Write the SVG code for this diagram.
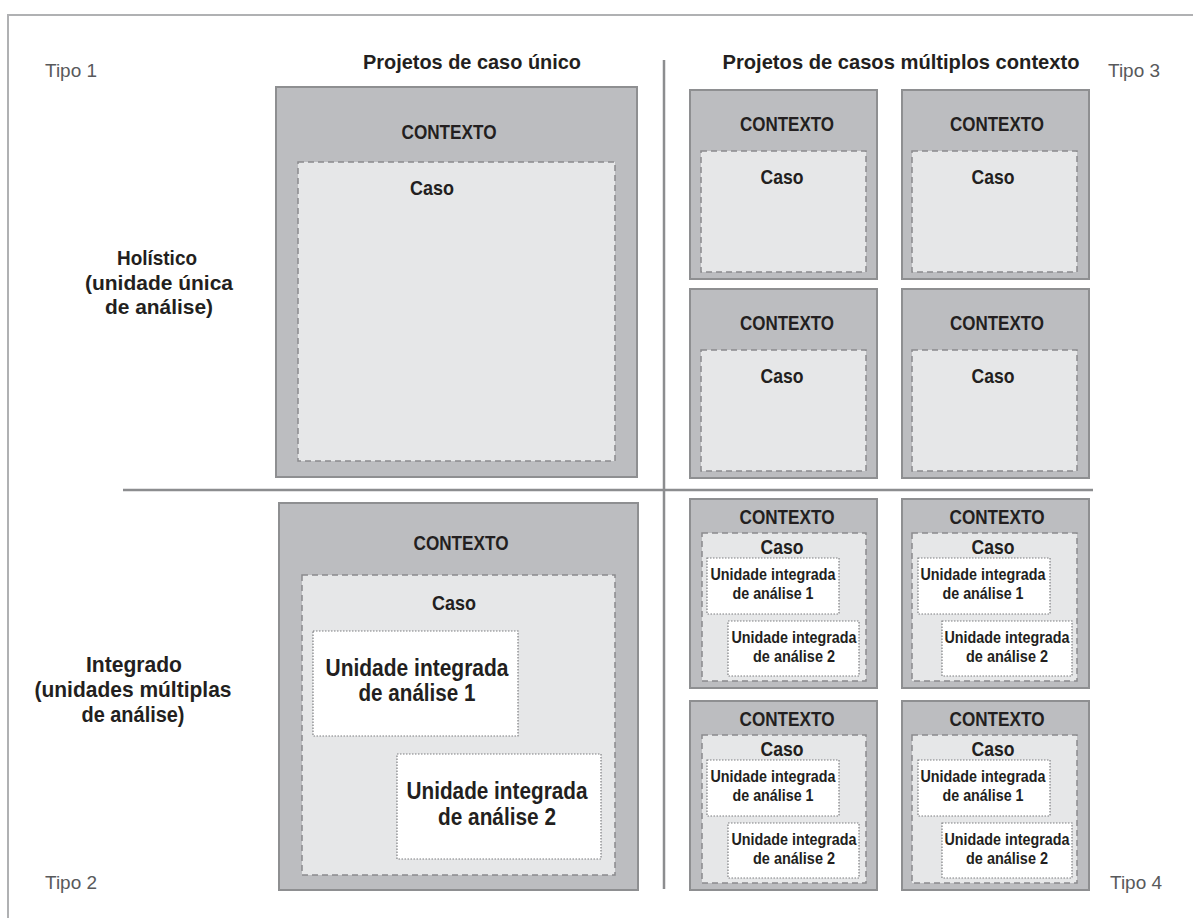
<svg xmlns="http://www.w3.org/2000/svg" width="1193" height="918" viewBox="0 0 1193 918">
<style>
.ctx{fill:#bcbdc0;stroke:#8e8f91;stroke-width:2}
.caso{fill:#e6e7e8;stroke:#8a8b8d;stroke-width:1.5;stroke-dasharray:6 4}
.unit{fill:#ffffff;stroke:#7d7e80;stroke-width:1.2;stroke-dasharray:1.5 1.5}
.b{font-family:"Liberation Sans",Arial,sans-serif;font-weight:bold;fill:#231f20;text-anchor:middle}
.tipo{font-family:"Liberation Sans",Arial,sans-serif;font-size:19px;fill:#58595b}
.line{stroke:#8c8d8f;stroke-width:2.5;fill:none}
.frame{stroke:#b0b1b3;stroke-width:2;fill:none}
</style>
<rect width="1193" height="918" fill="#ffffff"/>
<g id="frame">
<polyline class="frame" points="8,918 8,15 1193,15"/>
</g>
<g id="connectors">
<line class="line" x1="123" y1="490" x2="1093" y2="490"/>
<line class="line" x1="664" y1="60" x2="664" y2="889"/>
</g>
<g id="labels">
<text class="tipo" x="45" y="77" textLength="52" lengthAdjust="spacingAndGlyphs">Tipo 1</text>
<text class="tipo" x="1108" y="77" textLength="52" lengthAdjust="spacingAndGlyphs">Tipo 3</text>
<text class="tipo" x="45" y="889" textLength="52" lengthAdjust="spacingAndGlyphs">Tipo 2</text>
<text class="tipo" x="1110" y="889" textLength="52" lengthAdjust="spacingAndGlyphs">Tipo 4</text>
<text class="b" x="472" y="69" font-size="21" textLength="218" lengthAdjust="spacingAndGlyphs">Projetos de caso único</text>
<text class="b" x="901" y="69" font-size="21" textLength="357" lengthAdjust="spacingAndGlyphs">Projetos de casos múltiplos contexto</text>
<text class="b" x="157" y="265" font-size="21" textLength="80" lengthAdjust="spacingAndGlyphs">Holístico</text>
<text class="b" x="159" y="290" font-size="21" textLength="148" lengthAdjust="spacingAndGlyphs">(unidade única</text>
<text class="b" x="159" y="314" font-size="21" textLength="108" lengthAdjust="spacingAndGlyphs">de análise)</text>
<text class="b" x="134" y="672" font-size="22" textLength="96" lengthAdjust="spacingAndGlyphs">Integrado</text>
<text class="b" x="133" y="697" font-size="22" textLength="197" lengthAdjust="spacingAndGlyphs">(unidades múltiplas</text>
<text class="b" x="133" y="722" font-size="22" textLength="103" lengthAdjust="spacingAndGlyphs">de análise)</text>
</g>
<g id="tipo1">
<rect class="ctx" x="276" y="87" width="361" height="390"/>
<text class="b" x="449" y="139" font-size="21" textLength="95" lengthAdjust="spacingAndGlyphs">CONTEXTO</text>
<rect class="caso" x="298" y="162" width="317" height="299"/>
<text class="b" x="432" y="195" font-size="21" textLength="44" lengthAdjust="spacingAndGlyphs">Caso</text>
</g>
<g id="tipo2">
<rect class="ctx" x="279" y="503" width="359" height="387"/>
<text class="b" x="461" y="550" font-size="21" textLength="95" lengthAdjust="spacingAndGlyphs">CONTEXTO</text>
<rect class="caso" x="302" y="575" width="313" height="300"/>
<text class="b" x="454" y="610" font-size="21" textLength="44" lengthAdjust="spacingAndGlyphs">Caso</text>
<rect class="unit" x="313" y="631" width="205" height="105"/>
<text class="b" x="417" y="676" font-size="23" textLength="183" lengthAdjust="spacingAndGlyphs">Unidade integrada</text>
<text class="b" x="417" y="701" font-size="23" textLength="117" lengthAdjust="spacingAndGlyphs">de análise 1</text>
<rect class="unit" x="397" y="754" width="204" height="105"/>
<text class="b" x="497" y="799" font-size="23" textLength="181" lengthAdjust="spacingAndGlyphs">Unidade integrada</text>
<text class="b" x="497" y="825" font-size="23" textLength="118" lengthAdjust="spacingAndGlyphs">de análise 2</text>
</g>
<g id="tipo3-caso1">
<rect class="ctx" x="690" y="90" width="187" height="189"/>
<text class="b" x="787" y="131" font-size="21" textLength="94" lengthAdjust="spacingAndGlyphs">CONTEXTO</text>
<rect class="caso" x="701" y="151" width="165" height="121"/>
<text class="b" x="782" y="184" font-size="21" textLength="43" lengthAdjust="spacingAndGlyphs">Caso</text>
</g>
<g id="tipo3-caso2" transform="translate(212,0)">
<rect class="ctx" x="690" y="90" width="187" height="189"/>
<text class="b" x="785" y="131" font-size="21" textLength="94" lengthAdjust="spacingAndGlyphs">CONTEXTO</text>
<rect class="caso" x="700" y="151" width="165" height="121"/>
<text class="b" x="781" y="184" font-size="21" textLength="43" lengthAdjust="spacingAndGlyphs">Caso</text>
</g>
<g id="tipo3-caso3" transform="translate(0,199)">
<rect class="ctx" x="690" y="90" width="187" height="189"/>
<text class="b" x="787" y="131" font-size="21" textLength="94" lengthAdjust="spacingAndGlyphs">CONTEXTO</text>
<rect class="caso" x="701" y="151" width="165" height="121"/>
<text class="b" x="782" y="184" font-size="21" textLength="43" lengthAdjust="spacingAndGlyphs">Caso</text>
</g>
<g id="tipo3-caso4" transform="translate(212,199)">
<rect class="ctx" x="690" y="90" width="187" height="189"/>
<text class="b" x="785" y="131" font-size="21" textLength="94" lengthAdjust="spacingAndGlyphs">CONTEXTO</text>
<rect class="caso" x="700" y="151" width="165" height="121"/>
<text class="b" x="781" y="184" font-size="21" textLength="43" lengthAdjust="spacingAndGlyphs">Caso</text>
</g>
<g id="tipo4-caso1">
<rect class="ctx" x="690" y="499" width="187" height="189"/>
<text class="b" x="787" y="524" font-size="21" textLength="95" lengthAdjust="spacingAndGlyphs">CONTEXTO</text>
<rect class="caso" x="702" y="533" width="164" height="148"/>
<text class="b" x="782" y="554" font-size="21" textLength="43" lengthAdjust="spacingAndGlyphs">Caso</text>
<rect class="unit" x="707" y="558" width="132" height="56"/>
<text class="b" x="773" y="580" font-size="16.5" textLength="125" lengthAdjust="spacingAndGlyphs">Unidade integrada</text>
<text class="b" x="773" y="599" font-size="16.5" textLength="81" lengthAdjust="spacingAndGlyphs">de análise 1</text>
<rect class="unit" x="728" y="621" width="131" height="55"/>
<text class="b" x="794" y="643" font-size="16.5" textLength="125" lengthAdjust="spacingAndGlyphs">Unidade integrada</text>
<text class="b" x="794" y="662" font-size="16.5" textLength="82" lengthAdjust="spacingAndGlyphs">de análise 2</text>
</g>
<g id="tipo4-caso2" transform="translate(212,0)">
<rect class="ctx" x="690" y="499" width="187" height="189"/>
<text class="b" x="785" y="524" font-size="21" textLength="95" lengthAdjust="spacingAndGlyphs">CONTEXTO</text>
<rect class="caso" x="700" y="533" width="165" height="148"/>
<text class="b" x="781" y="554" font-size="21" textLength="43" lengthAdjust="spacingAndGlyphs">Caso</text>
<rect class="unit" x="706" y="558" width="132" height="56"/>
<text class="b" x="771" y="580" font-size="16.5" textLength="125" lengthAdjust="spacingAndGlyphs">Unidade integrada</text>
<text class="b" x="771" y="599" font-size="16.5" textLength="81" lengthAdjust="spacingAndGlyphs">de análise 1</text>
<rect class="unit" x="730" y="621" width="130" height="55"/>
<text class="b" x="795" y="643" font-size="16.5" textLength="125" lengthAdjust="spacingAndGlyphs">Unidade integrada</text>
<text class="b" x="795" y="662" font-size="16.5" textLength="82" lengthAdjust="spacingAndGlyphs">de análise 2</text>
</g>
<g id="tipo4-caso3" transform="translate(0,202)">
<rect class="ctx" x="690" y="499" width="187" height="189"/>
<text class="b" x="787" y="524" font-size="21" textLength="95" lengthAdjust="spacingAndGlyphs">CONTEXTO</text>
<rect class="caso" x="702" y="533" width="164" height="148"/>
<text class="b" x="782" y="554" font-size="21" textLength="43" lengthAdjust="spacingAndGlyphs">Caso</text>
<rect class="unit" x="707" y="558" width="132" height="56"/>
<text class="b" x="773" y="580" font-size="16.5" textLength="125" lengthAdjust="spacingAndGlyphs">Unidade integrada</text>
<text class="b" x="773" y="599" font-size="16.5" textLength="81" lengthAdjust="spacingAndGlyphs">de análise 1</text>
<rect class="unit" x="728" y="621" width="131" height="55"/>
<text class="b" x="794" y="643" font-size="16.5" textLength="125" lengthAdjust="spacingAndGlyphs">Unidade integrada</text>
<text class="b" x="794" y="662" font-size="16.5" textLength="82" lengthAdjust="spacingAndGlyphs">de análise 2</text>
</g>
<g id="tipo4-caso4" transform="translate(212,202)">
<rect class="ctx" x="690" y="499" width="187" height="189"/>
<text class="b" x="785" y="524" font-size="21" textLength="95" lengthAdjust="spacingAndGlyphs">CONTEXTO</text>
<rect class="caso" x="700" y="533" width="165" height="148"/>
<text class="b" x="781" y="554" font-size="21" textLength="43" lengthAdjust="spacingAndGlyphs">Caso</text>
<rect class="unit" x="706" y="558" width="132" height="56"/>
<text class="b" x="771" y="580" font-size="16.5" textLength="125" lengthAdjust="spacingAndGlyphs">Unidade integrada</text>
<text class="b" x="771" y="599" font-size="16.5" textLength="81" lengthAdjust="spacingAndGlyphs">de análise 1</text>
<rect class="unit" x="730" y="621" width="130" height="55"/>
<text class="b" x="795" y="643" font-size="16.5" textLength="125" lengthAdjust="spacingAndGlyphs">Unidade integrada</text>
<text class="b" x="795" y="662" font-size="16.5" textLength="82" lengthAdjust="spacingAndGlyphs">de análise 2</text>
</g>
</svg>
